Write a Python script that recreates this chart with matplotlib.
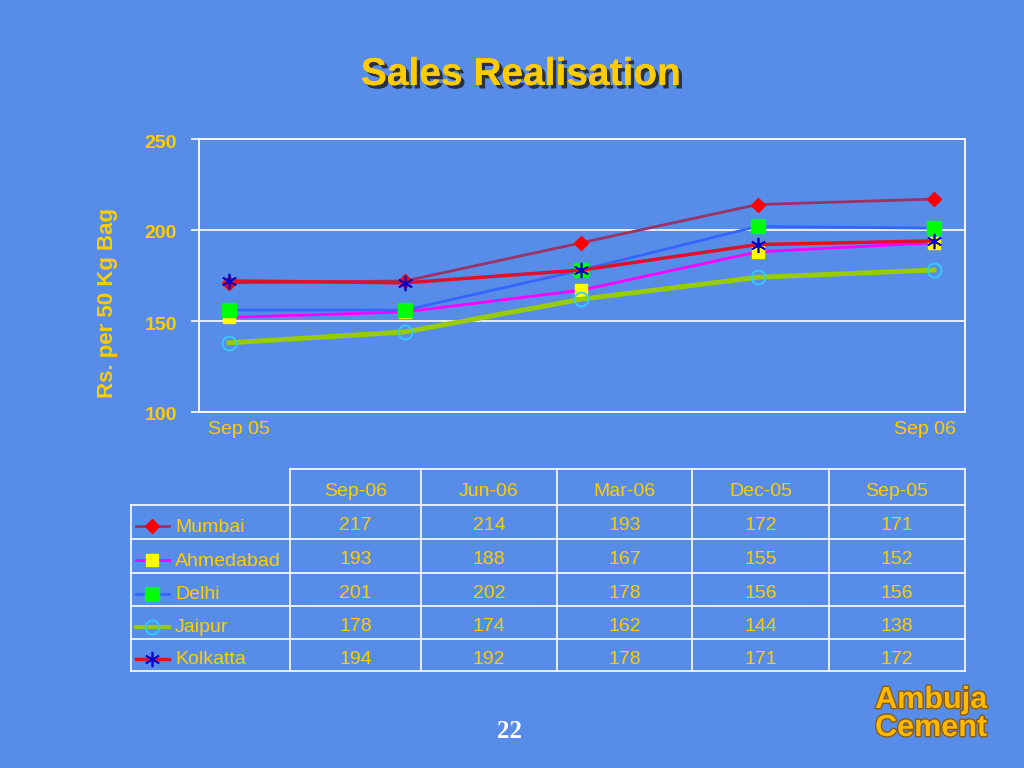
import matplotlib
matplotlib.use("Agg")
from matplotlib import pyplot as plt
import matplotlib.patheffects as pe
import matplotlib.transforms as mtransforms

# data, chronological order (table shows it newest first)
periods = ["Sep-05", "Dec-05", "Mar-06", "Jun-06", "Sep-06"]
cities = ["Mumbai", "Ahmedabad", "Delhi", "Jaipur", "Kolkatta"]
mumbai = [171, 172, 193, 214, 217]
ahmedabad = [152, 155, 167, 188, 193]
delhi = [156, 156, 178, 202, 201]
jaipur = [138, 144, 162, 174, 178]
kolkatta = [172, 171, 178, 192, 194]
series = [mumbai, ahmedabad, delhi, jaipur, kolkatta]
x_labels = ["Sep 05", "Sep 06"]
y_ticks = [100, 150, 200, 250]

bg = "#578DE8"
yellow = "#FFCC00"
font = "Liberation Sans"

# line colour, width, marker, marker size, face, edge
styles = [
    dict(color="#993366", lw=2.0, marker="D", ms=7, mfc="#FF0000", mec="#FF0000", mew=1),
    dict(color="#FF00FF", lw=2.0, marker="s", ms=8.5, mfc="#FFFF00", mec="#FFFF00", mew=1),
    dict(color="#3366FF", lw=2.0, marker="s", ms=9.5, mfc="#00FF00", mec="#00FF00", mew=1),
    dict(color="#99CC00", lw=3.5, marker="o", ms=10, mfc="none", mec="#33CCFF", mew=1.3),
    dict(color="#E0102A", lw=2.5, marker=(6, 2, 0), ms=11, mfc="#0000CC", mec="#0000CC", mew=1.2),
]

fig = plt.figure(figsize=(10.24, 7.68), dpi=100, facecolor=bg)

W, H = 1024.0, 768.0
ax = fig.add_axes([199 / W, 1 - 412 / H, 766 / W, 273 / H])
ax.set_facecolor(bg)
xs = list(range(len(periods)))
for vals, st in zip(series, styles):
    ax.plot(xs, vals, color=st["color"], lw=st["lw"], marker=st["marker"],
            ms=st["ms"], mfc=st["mfc"], mec=st["mec"], mew=st["mew"])
ax.set_xlim(-0.170, 4.176)
ax.set_ylim(100, 250)
ax.set_yticks(y_ticks)
ax.set_yticklabels([str(t) for t in y_ticks], fontsize=14, fontweight="bold",
                   color=yellow, family=font)
ax.tick_params(axis="y", colors="white", length=6, width=1.2, pad=10, labelcolor=yellow)
shift = mtransforms.ScaledTranslation(0, -2 / 100, fig.dpi_scale_trans)
for lab in ax.get_yticklabels():
    lab.set_transform(lab.get_transform() + shift)
ax.set_xticks([])
ax.grid(axis="y", color="white", lw=1.2)
for s in ax.spines.values():
    s.set_color("white")
    s.set_linewidth(1.3)
ax.text(0.0117, -0.032, x_labels[0], transform=ax.transAxes, ha="left", va="top",
        fontsize=14, color=yellow, family=font)
ax.text(0.988, -0.032, x_labels[1], transform=ax.transAxes, ha="right", va="top",
        fontsize=14, color=yellow, family=font)
ax.text(-0.119, 0.40, "Rs. per 50 Kg Bag", transform=ax.transAxes, rotation=90,
        ha="center", va="center", fontsize=16, fontweight="bold", color=yellow, family=font)

# overlay in pixel coordinates for the title, table and footer
ov = fig.add_axes([0, 0, 1, 1])
ov.set_xlim(0, W)
ov.set_ylim(H, 0)
ov.axis("off")
ov.patch.set_alpha(0)

ov.text(521, 75, "Sales Realisation", ha="center", va="center", fontsize=28,
        fontweight="bold", color=yellow, family=font,
        path_effects=[pe.withSimplePatchShadow(offset=(2.5, -2.5), shadow_rgbFace="#222222", alpha=0.85),
                      pe.Normal()])

# table
col_edges = [290, 421, 557, 692, 829, 965]
row_edges = [469, 505, 539, 573, 606, 639, 671]
left = 131
lc = "white"
tlw = 1.2
ov.plot([col_edges[0], col_edges[-1]], [row_edges[0]] * 2, color=lc, lw=tlw)
for y in row_edges[1:]:
    ov.plot([left, col_edges[-1]], [y, y], color=lc, lw=tlw)
ov.plot([left, left], [row_edges[1], row_edges[-1]], color=lc, lw=tlw)
for x in col_edges:
    ov.plot([x, x], [row_edges[0], row_edges[-1]], color=lc, lw=tlw)

table_periods = periods[::-1]
for j, p in enumerate(table_periods):
    cx = (col_edges[j] + col_edges[j + 1]) / 2
    ov.text(cx, (row_edges[0] + row_edges[1]) / 2 + 4, p, ha="center", va="center",
            fontsize=14, color=yellow, family=font)

for i, (name, vals, st) in enumerate(zip(cities, series, styles)):
    cy = (row_edges[i + 1] + row_edges[i + 2]) / 2 + 4
    ov.plot([136, 169], [cy, cy], color=st["color"], lw=min(st["lw"], 3))
    ov.plot([152], [cy], ls="none", marker=st["marker"], ms=st["ms"], mfc=st["mfc"],
            mec=st["mec"], mew=st["mew"])
    ov.text(175, cy + 1, name, ha="left", va="center", fontsize=14, color=yellow, family=font)
    for j, v in enumerate(vals[::-1]):
        cx = (col_edges[j] + col_edges[j + 1]) / 2
        ov.text(cx, cy, str(v), ha="center", va="center", fontsize=14, color=yellow, family=font)

# footer
ov.text(510, 731, "22", ha="center", va="center", fontsize=18, fontweight="bold",
        color="white", family="Liberation Serif")
logo_fx = [pe.withStroke(linewidth=2, foreground="#8A5A10")]
ov.text(931, 700, "Ambuja", ha="center", va="center", fontsize=22, fontweight="bold",
        color="#FFB800", family=font, path_effects=logo_fx)
ov.text(931, 728, "Cement", ha="center", va="center", fontsize=22, fontweight="bold",
        color="#FFB800", family=font, path_effects=logo_fx)

fig.savefig("out.png", dpi=100, facecolor=bg)
